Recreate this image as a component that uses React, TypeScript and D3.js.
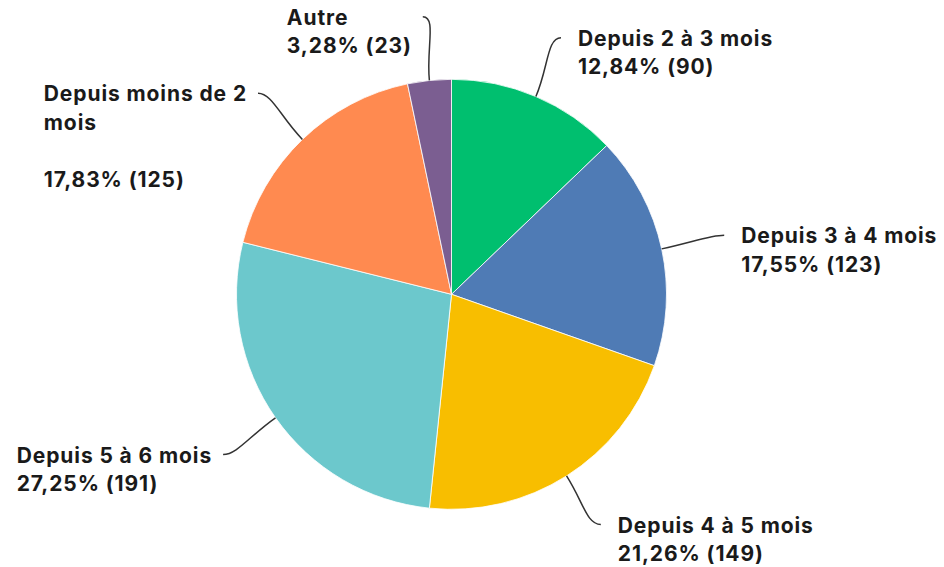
import React, { useEffect, useRef } from "react";
import * as d3 from "d3";

const categories = [
  "Depuis 2 à 3 mois",
  "Depuis 3 à 4 mois",
  "Depuis 4 à 5 mois",
  "Depuis 5 à 6 mois",
  "Depuis moins de 2 mois",
  "Autre",
];
const percents = ["12,84%", "17,55%", "21,26%", "27,25%", "17,83%", "3,28%"];
const counts = [90, 123, 149, 191, 125, 23];
const colors = ["#00BF6F", "#4F7BB5", "#F8BE00", "#6CC8CC", "#FF8A50", "#7B5E91"];
// label line wrapping as in the source
const wrappedNames: string[][] = [
  ["Depuis 2 à 3 mois"],
  ["Depuis 3 à 4 mois"],
  ["Depuis 4 à 5 mois"],
  ["Depuis 5 à 6 mois"],
  ["Depuis moins de 2", "mois", ""],
  ["Autre"],
];

const W = 944;
const H = 567;

export default function App() {
  const ref = useRef<SVGSVGElement>(null);

  useEffect(() => {
    const svg = d3.select(ref.current);
    svg.selectAll("*").remove();
    const cx = 451.5;
    const cy = 294.3;
    const r = 215;
    const rLabel = 279;
    const lineH = 28.5;

    const data = categories.map((c, i) => ({
      name: c,
      count: counts[i],
      pct: percents[i],
      color: colors[i],
      lines: wrappedNames[i],
    }));

    const pie = d3
      .pie<any>()
      .sort(null)
      .value((d) => d.count);
    const arcs = pie(data);
    const arc = d3.arc<any>().innerRadius(0).outerRadius(r);

    const g = svg.append("g").attr("transform", `translate(${cx},${cy})`);
    g.selectAll("path.slice")
      .data(arcs)
      .join("path")
      .attr("class", "slice")
      .attr("d", arc)
      .attr("fill", (d) => d.data.color)
      .attr("stroke", "#ffffff")
      .attr("stroke-width", 0.8)
      .attr("stroke-linejoin", "round");

    const pt = (a: number, rr: number) => [Math.sin(a) * rr, -Math.cos(a) * rr];

    arcs.forEach((d) => {
      const mid = (d.startAngle + d.endAngle) / 2;
      const lines = [...d.data.lines, `${d.data.pct} (${d.data.count})`];
      const p0 = pt(mid, r);
      const p1 = pt(mid, r + 32);
      const end = pt(mid, rLabel);
      const maxY = H - 6 - (lines.length - 1) * lineH - 8 - cy;
      if (end[1] > maxY) end[1] = maxY;
      const right = end[0] >= 0;
      const p2 = [end[0] + (right ? -14 : 14), end[1]];
      g.append("path")
        .attr(
          "d",
          `M${p0[0]},${p0[1]} C${p1[0]},${p1[1]} ${p2[0]},${p2[1]} ${end[0]},${end[1]}`
        )
        .attr("fill", "none")
        .attr("stroke", "#333333")
        .attr("stroke-width", 1.5);

      const t = g
        .append("text")
        .attr("font-family", "Inter, 'Noto Sans', sans-serif")
        .attr("font-weight", 700)
        .attr("font-size", 21)
        .attr("letter-spacing", 0.9)
        .attr("fill", "#1a1a1a");
      lines.forEach((l, i) => {
        t.append("tspan").attr("x", 0).attr("y", i * lineH).text(l === "" ? "\u00a0" : l);
      });
      const bw = (t.node() as SVGTextElement).getBBox().width;
      const tx = right ? end[0] + 17 : end[0] - 11 - bw;
      const ty = end[1] + 8;
      t.attr("transform", `translate(${tx},${ty})`);
    });
  }, []);

  return (
    <div style={{ position: "absolute", left: 0, top: 0 }}>
      <svg ref={ref} width={W} height={H} style={{ display: "block", background: "#fff" }} />
    </div>
  );
}
